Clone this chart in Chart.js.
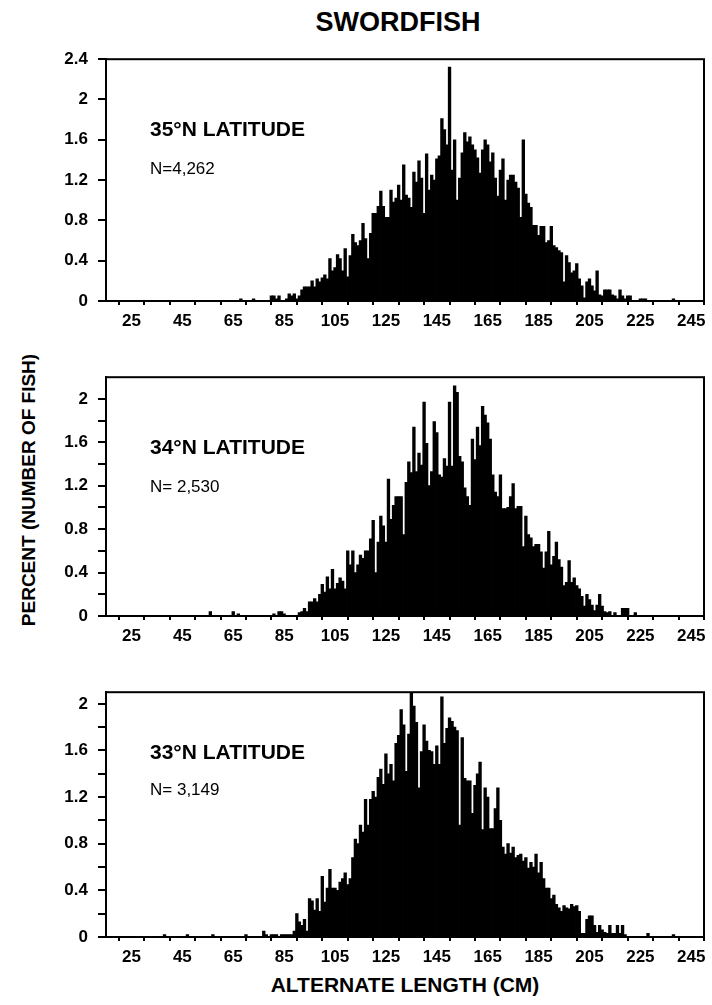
<!DOCTYPE html>
<html lang="en">
<head>
<meta charset="UTF-8">
<script src="https://cdn.jsdelivr.net/npm/chart.js"></script>
<style>
  body { margin: 0; width: 712px; height: 1005px; background: #fff; position: relative; overflow: hidden;
         font-family: "Liberation Sans", Arial, Helvetica, sans-serif; color: #000; }
  canvas { position: absolute; left: 40px; }
  .txt { position: absolute; white-space: nowrap; line-height: 1; }
  .title { font-size: 27px; font-weight: bold; left: 248px; width: 300px; text-align: center; top: 9px; }
  .xtitle { font-size: 21px; font-weight: bold; left: 205px; width: 400px; text-align: center; top: 974px; }
  .ytitle { font-size: 19px; font-weight: bold; left: 28px; top: 490px; transform: translate(-50%, -50%) rotate(-90deg); }
  .lat { font-size: 21px; font-weight: bold; left: 150px; }
  .n { font-size: 17px; left: 150px; }
</style>
</head>
<body>
  <div class="txt title">SWORDFISH</div>
  <div class="txt ytitle">PERCENT (NUMBER OF FISH)</div>
  <div class="txt xtitle">ALTERNATE LENGTH (CM)</div>

  <canvas id="lat35" width="672" height="292" style="top:39px"></canvas>
  <canvas id="lat34" width="672" height="289" style="top:357px"></canvas>
  <canvas id="lat33" width="672" height="295" style="top:672px"></canvas>

  <div class="txt lat" style="top:118px">35°N LATITUDE</div>
  <div class="txt n" style="top:160px">N=4,262</div>
  <div class="txt lat" style="top:436px">34°N LATITUDE</div>
  <div class="txt n" style="top:478px">N= 2,530</div>
  <div class="txt lat" style="top:741px">33°N LATITUDE</div>
  <div class="txt n" style="top:781px">N= 3,149</div>

<script>
// 1 cm length classes, first class is 35 cm (rows of 10 classes)
const firstLength = 35;

const lat35 = [
  0, 0, 0, 0, 0, 0, 0, 0, 0, 0,                              // 35
  0, 0, 0, 0, 0, 0, 0, 0, 0, 0,                              // 45
  0, 0, 0, 0, 0, 0, 0, 0, 0, 0,                              // 55
  0, 0, 0, 0.02, 0, 0, 0, 0, 0.02, 0,                        // 65
  0, 0, 0, 0, 0, 0.05, 0.05, 0.02, 0.05, 0,                  // 75
  0, 0.02, 0.07, 0.05, 0.07, 0.02, 0.05, 0.11, 0.14, 0.14,   // 85
  0.14, 0.2, 0.14, 0.22, 0.19, 0.23, 0.26, 0.22, 0.42, 0.3,  // 95
  0.33, 0.46, 0.42, 0.3, 0.52, 0.24, 0.45, 0.66, 0.58, 0.55, // 105
  0.6, 0.77, 0.62, 0.42, 0.67, 0.87, 0.87, 0.94, 1.09, 0.94, // 115
  0.83, 0.83, 1.1, 0.98, 1.02, 1.15, 1.0, 1.35, 1.05, 1.02,  // 125
  0.93, 1.28, 1.18, 1.39, 1.22, 0.87, 1.46, 1.1, 1.25, 1.2,  // 135
  1.41, 1.44, 1.81, 1.7, 1.55, 2.32, 1.3, 1.6, 1.0, 1.22,    // 145
  1.47, 1.67, 1.58, 1.63, 1.55, 1.5, 1.42, 1.27, 1.5, 1.6,   // 155
  1.55, 1.38, 1.47, 1.22, 1.04, 1.3, 1.41, 1.0, 1.2, 1.25,   // 165
  1.25, 1.18, 1.12, 0.83, 1.6, 1.06, 0.97, 0.93, 0.75, 0.75, // 175
  0.65, 0.74, 0.74, 0.58, 0.6, 0.74, 0.55, 0.53, 0.5, 0.48,  // 185
  0.19, 0.45, 0.38, 0.28, 0.3, 0.37, 0.22, 0.15, 0.03, 0.19, // 195
  0.22, 0.15, 0.1, 0.3, 0.06, 0.05, 0.11, 0.11, 0.11, 0.06,  // 205
  0.05, 0.02, 0.11, 0.05, 0.02, 0.05, 0.05, 0, 0, 0,         // 215
  0.02, 0.02, 0.02, 0, 0, 0, 0, 0, 0, 0,                     // 225
  0, 0, 0, 0.02, 0, 0, 0, 0, 0, 0                            // 235
];

const lat34 = [
  0, 0, 0, 0, 0, 0, 0, 0, 0, 0,                              // 35
  0, 0, 0, 0, 0, 0, 0, 0, 0, 0,                              // 45
  0, 0.04, 0, 0, 0, 0, 0, 0, 0, 0,                           // 55
  0.04, 0, 0.02, 0, 0, 0, 0, 0, 0, 0,                        // 65
  0, 0, 0, 0, 0, 0, 0.02, 0, 0.04, 0.04,                     // 75
  0.02, 0, 0, 0, 0, 0, 0.03, 0.04, 0.07, 0.04,               // 85
  0.13, 0.13, 0.16, 0.13, 0.2, 0.29, 0.22, 0.36, 0.25, 0.43, // 95
  0.25, 0.3, 0.35, 0.32, 0.25, 0.6, 0.47, 0.6, 0.4, 0.47,    // 105
  0.56, 0.53, 0.6, 0.6, 0.71, 0.88, 0.4, 0.68, 0.92, 0.83,   // 115
  0.68, 1.26, 0.89, 1.02, 1.1, 1.1, 1.1, 0.75, 1.23, 1.42,   // 125
  1.32, 1.74, 1.33, 1.5, 1.39, 1.97, 1.59, 1.2, 1.33, 1.79,  // 135
  1.69, 1.3, 1.28, 1.45, 1.38, 1.97, 1.38, 2.12, 2.06, 1.47, // 145
  1.42, 1.18, 1.1, 1.02, 1.63, 1.44, 1.74, 1.57, 1.93, 1.85, // 155
  1.78, 1.63, 1.3, 1.14, 1.1, 1.3, 0.99, 0.99, 1.0, 1.1,     // 165
  1.22, 0.99, 1.01, 1.01, 0.64, 0.92, 0.75, 0.72, 0.64, 0.66,// 175
  0.66, 0.59, 0.44, 0.59, 0.78, 0.47, 0.55, 0.68, 0.52, 0.45,// 185
  0.28, 0.31, 0.51, 0.31, 0.35, 0.28, 0.25, 0.18, 0.09, 0.2, // 195
  0.15, 0.1, 0.05, 0.1, 0.2, 0.09, 0.04, 0.03, 0.04, 0,      // 205
  0.03, 0, 0, 0.07, 0.07, 0.07, 0, 0, 0.03, 0,               // 215
  0, 0, 0, 0, 0, 0, 0, 0, 0, 0,                              // 225
  0, 0, 0, 0, 0, 0, 0, 0, 0, 0                               // 235
];

const lat33 = [
  0, 0, 0, 0.02, 0, 0, 0, 0, 0, 0,                           // 35
  0, 0, 0.02, 0, 0, 0, 0, 0, 0, 0,                           // 45
  0, 0, 0.02, 0, 0, 0, 0, 0, 0, 0,                           // 55
  0, 0, 0, 0, 0, 0.02, 0, 0, 0, 0,                           // 65
  0, 0, 0.05, 0.02, 0, 0.02, 0.02, 0.02, 0, 0.02,            // 75
  0.02, 0.02, 0.02, 0.02, 0.05, 0.2, 0.13, 0.1, 0.15, 0.05,  // 85
  0.33, 0.31, 0.23, 0.33, 0.22, 0.52, 0.3, 0.42, 0.58, 0.42, // 95
  0.42, 0.4, 0.47, 0.5, 0.55, 0.45, 0.5, 0.68, 0.84, 0.8,    // 105
  0.96, 0.9, 1.18, 0.96, 1.18, 1.25, 1.2, 1.37, 1.44, 1.31,  // 115
  1.57, 1.4, 1.48, 1.34, 1.66, 1.73, 1.95, 1.82, 1.42, 1.74, // 125
  2.15, 1.98, 1.84, 1.28, 1.59, 1.82, 1.68, 1.6, 1.59, 1.48, // 135
  1.64, 1.48, 2.06, 1.66, 1.79, 1.88, 1.85, 1.8, 1.77, 0.96, // 145
  1.71, 1.36, 1.34, 1.34, 1.06, 1.3, 1.4, 1.5, 0.92, 1.28,   // 155
  1.2, 0.93, 0.93, 1.1, 1.28, 1.0, 0.77, 0.71, 0.8, 0.72,    // 165
  0.77, 0.68, 0.7, 0.71, 0.65, 0.68, 0.59, 0.64, 0.6, 0.71,  // 175
  0.55, 0.64, 0.5, 0.42, 0.42, 0.33, 0.36, 0.28, 0.25, 0.22, // 185
  0.27, 0.25, 0.24, 0.28, 0.26, 0.27, 0.22, 0.03, 0.03, 0.15,// 195
  0.18, 0.18, 0.1, 0.04, 0.1, 0.06, 0.04, 0.03, 0.1, 0.03,   // 205
  0.03, 0.1, 0.03, 0.1, 0.02, 0, 0, 0, 0, 0,                 // 215
  0, 0, 0, 0.03, 0, 0, 0, 0, 0, 0,                           // 225
  0, 0, 0, 0.02, 0, 0, 0, 0, 0, 0                            // 235
];

const xMin = 15, xMax = 250;
const xTickValues = [25, 35, 45, 55, 65, 75, 85, 95, 105, 115, 125, 135, 145, 155, 165, 175, 185, 195, 205, 215, 225, 235, 245];
const xLabelValues = [25, 45, 65, 85, 105, 125, 145, 165, 185, 205, 225, 245];

const yTicks35 = [0, 0.2, 0.4, 0.6, 0.8, 1, 1.2, 1.4, 1.6, 1.8, 2, 2.2, 2.4];
const yTicks34 = [0, 0.2, 0.4, 0.6, 0.8, 1, 1.2, 1.4, 1.6, 1.8, 2];
const yTicks33 = [0, 0.2, 0.4, 0.6, 0.8, 1, 1.2, 1.4, 1.6, 1.8, 2];
const yLabelValues = [0, 0.4, 0.8, 1.2, 1.6, 2, 2.4];

const tickFont = { family: '"Liberation Sans", Arial, sans-serif', size: 17, weight: 'bold' };

// draws the closed box round the plot area
const framePlugin = {
  id: 'frame',
  afterDraw(chart) {
    const { ctx, chartArea: a } = chart;
    ctx.save();
    ctx.strokeStyle = '#000';
    ctx.lineWidth = 2;
    ctx.strokeRect(a.left, a.top, a.right - a.left, a.bottom - a.top);
    ctx.restore();
  }
};

function drawPanel(id, values, yMax, yTicks) {
  const points = values.map((v, i) => ({ x: firstLength + i, y: v }));
  new Chart(document.getElementById(id), {
    type: 'bar',
    data: {
      datasets: [{
        data: points,
        backgroundColor: '#000',
        borderWidth: 0,
        barPercentage: 1,
        categoryPercentage: 1,
        inflateAmount: 0.4
      }]
    },
    options: {
      responsive: false,
      animation: false,
      layout: { padding: { top: 12, right: 8, left: 0, bottom: 0 } },
      plugins: { legend: { display: false }, tooltip: { enabled: false } },
      scales: {
        x: {
          type: 'linear',
          min: xMin,
          max: xMax,
          offset: false,
          afterBuildTicks: s => { s.ticks = xTickValues.map(v => ({ value: v })); },
          afterFit: s => { s.height = 30; },
          ticks: {
            autoSkip: false,
            maxRotation: 0,
            color: '#000',
            font: tickFont,
            padding: 6,
            callback: v => xLabelValues.includes(v) ? String(v) : ''
          },
          grid: { drawOnChartArea: false, tickLength: 4, color: '#000', lineWidth: 2 },
          border: { color: '#000', width: 2 }
        },
        y: {
          min: 0,
          max: yMax,
          afterBuildTicks: s => { s.ticks = yTicks.map(v => ({ value: v })); },
          afterFit: s => { s.width = 66; },
          ticks: {
            color: '#000',
            font: tickFont,
            padding: 10,
            callback: v => yLabelValues.some(l => Math.abs(l - v) < 1e-6) ? String(+v.toFixed(1)) : ''
          },
          grid: { drawOnChartArea: false, tickLength: 8, color: '#000', lineWidth: 2 },
          border: { color: '#000', width: 2 }
        }
      }
    },
    plugins: [framePlugin]
  });
}

drawPanel('lat35', lat35, 2.4, yTicks35);
drawPanel('lat34', lat34, 2.2, yTicks34);
drawPanel('lat33', lat33, 2.1, yTicks33);
</script>
</body>
</html>
